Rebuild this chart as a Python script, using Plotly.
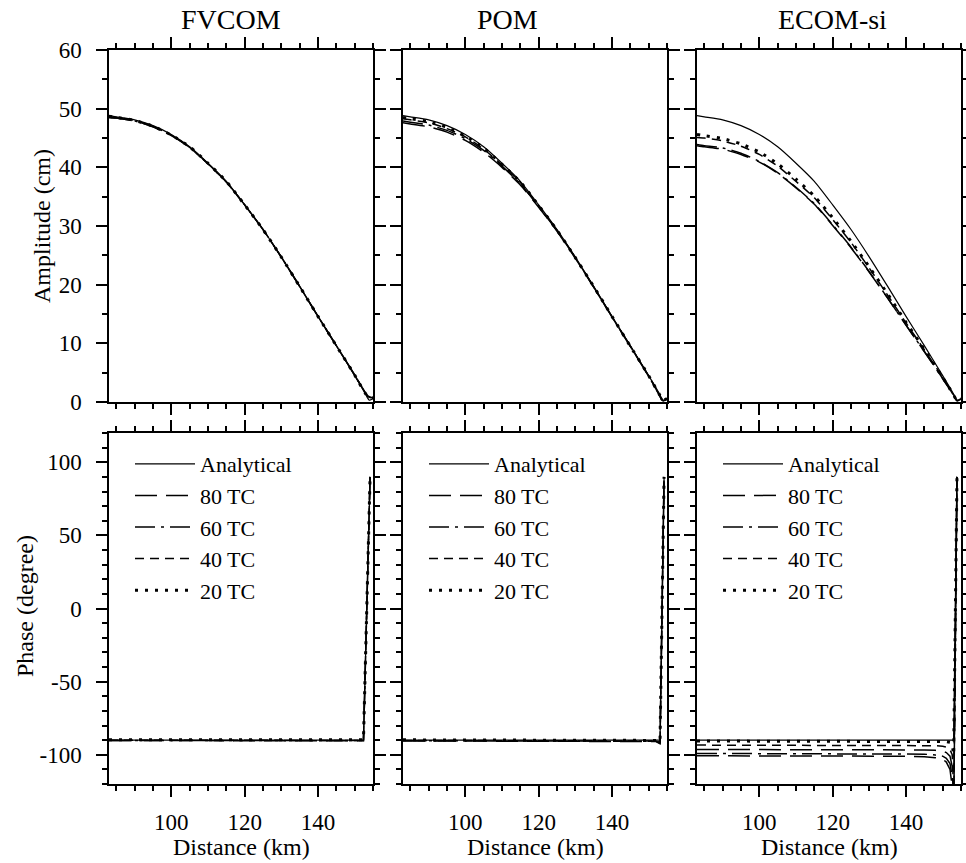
import plotly.graph_objects as go
from plotly.subplots import make_subplots

# ---------------- data ----------------
panels = ["FVCOM", "POM", "ECOM-si"]
series = ["Analytical", "80 TC", "60 TC", "40 TC", "20 TC"]

x_amp = [83, 85, 90, 95, 100, 105, 110, 115, 120, 125, 130, 135, 140, 145, 150, 152, 153, 153.5, 154, 155]

amp_analytical = [48.8, 48.6, 48.1, 47.1, 45.6, 43.5, 40.7, 37.6, 33.6, 29.4, 24.7, 19.7, 14.6, 9.6, 4.5, 2.4, 1.3, 0.7, 0.3, 0.6]

fv_amp_80 = [48.5, 48.4, 47.9, 46.9, 45.4, 43.4, 40.6, 37.5, 33.6, 29.4, 24.7, 19.7, 14.6, 9.6, 4.6, 2.5, 1.5, 1.1, 0.9, 0.7]
fv_amp_60 = [48.5, 48.4, 47.9, 46.9, 45.5, 43.4, 40.6, 37.5, 33.6, 29.4, 24.7, 19.7, 14.6, 9.6, 4.6, 2.5, 1.5, 1.1, 0.9, 0.7]
fv_amp_40 = [48.6, 48.5, 48.0, 47.0, 45.5, 43.4, 40.6, 37.5, 33.6, 29.4, 24.7, 19.7, 14.6, 9.6, 4.6, 2.5, 1.4, 1.0, 0.8, 0.7]
fv_amp_20 = [48.7, 48.5, 48.0, 47.0, 45.5, 43.5, 40.7, 37.6, 33.6, 29.4, 24.7, 19.7, 14.6, 9.6, 4.6, 2.4, 1.4, 1.0, 0.8, 0.7]

pom_amp_80 = [47.6, 47.4, 46.9, 46.0, 44.6, 42.6, 40.0, 37.0, 33.2, 29.1, 24.5, 19.6, 14.5, 9.5, 4.4, 2.2, 1.1, 0.4, 0.2, 0.5]
pom_amp_60 = [47.9, 47.7, 47.2, 46.3, 44.9, 42.9, 40.2, 37.2, 33.3, 29.2, 24.6, 19.6, 14.5, 9.5, 4.4, 2.2, 1.1, 0.4, 0.2, 0.5]
pom_amp_40 = [48.3, 48.1, 47.6, 46.6, 45.2, 43.1, 40.4, 37.4, 33.4, 29.3, 24.6, 19.6, 14.5, 9.5, 4.4, 2.3, 1.2, 0.5, 0.2, 0.5]
pom_amp_20 = [48.5, 48.3, 47.8, 46.8, 45.3, 43.3, 40.5, 37.5, 33.5, 29.3, 24.6, 19.7, 14.6, 9.5, 4.5, 2.3, 1.2, 0.6, 0.3, 0.6]

ec_amp_80 = [43.7, 43.5, 43.1, 42.2, 40.9, 39.0, 36.5, 33.7, 30.1, 26.3, 22.1, 17.7, 13.1, 8.6, 4.0, 2.1, 1.1, 0.5, 0.2, 0.5]
ec_amp_60 = [43.9, 43.7, 43.3, 42.4, 41.0, 39.1, 36.6, 33.8, 30.2, 26.4, 22.2, 17.7, 13.1, 8.6, 4.0, 2.1, 1.1, 0.5, 0.2, 0.5]
ec_amp_40 = [45.1, 45.0, 44.5, 43.6, 42.2, 40.2, 37.6, 34.8, 31.1, 27.2, 22.8, 18.2, 13.5, 8.9, 4.2, 2.2, 1.2, 0.6, 0.2, 0.5]
ec_amp_20 = [45.6, 45.4, 44.9, 44.0, 42.6, 40.6, 38.0, 35.1, 31.4, 27.4, 23.0, 18.4, 13.6, 9.0, 4.2, 2.2, 1.2, 0.6, 0.2, 0.6]

x_ph_fv = [83, 100, 120, 140, 150, 152.4, 154.2]
fv_ph_ana = [-90, -90, -90, -90, -90, -90, 90]
fv_ph_80 = [-90.3, -90.3, -90.3, -90.3, -90.3, -90.4, 90]
fv_ph_60 = [-90.2, -90.2, -90.2, -90.2, -90.2, -90.3, 90]
fv_ph_40 = [-90.1, -90.1, -90.1, -90.1, -90.1, -90.2, 90]
fv_ph_20 = [-89.7, -89.7, -89.7, -89.7, -89.7, -89.8, 90]

x_ph_pom = [83, 100, 120, 140, 150, 152, 153.1, 154.2]
pom_ph_ana = [-90, -90, -90, -90, -90, -90, -90, 90]
pom_ph_80 = [-90.5, -90.5, -90.5, -90.5, -90.6, -91.0, -92.5, 90]
pom_ph_60 = [-90.4, -90.4, -90.4, -90.4, -90.5, -90.8, -92.0, 90]
pom_ph_40 = [-90.2, -90.2, -90.2, -90.2, -90.3, -90.6, -91.5, 90]
pom_ph_20 = [-89.8, -89.8, -89.8, -89.8, -89.9, -90.2, -91.0, 90]

x_ph_ec = [83, 100, 120, 140, 145, 148, 150, 151, 152, 152.6, 153.0, 153.9]
ec_ph_ana = [-90, -90, -90, -90, -90, -90, -90, -90, -90, -90, -90, 90]
ec_ph_20 = [-90.6, -90.6, -90.6, -90.6, -90.6, -90.7, -90.8, -91.0, -91.5, -93.0, -100, 90]
ec_ph_40 = [-93.4, -93.4, -93.4, -93.5, -93.6, -93.8, -94.2, -94.8, -96.5, -100, -125, 90]
ec_ph_80 = [-96.4, -96.4, -96.4, -96.5, -96.7, -97.0, -97.6, -98.5, -101, -108, -135, 90]
ec_ph_60 = [-99.1, -99.1, -99.2, -99.3, -99.6, -100.2, -101, -102.5, -106, -115, -140, 90]
ec_ph_extra = [-100.7, -100.7, -100.8, -101.0, -101.3, -102, -103, -105, -110, -122, -145, 90]

amp_tick_vals = [0, 10, 20, 30, 40, 50, 60]
amp_tick_text = ["0", "10", "20", "30", "40", "50", "60"]
phase_tick_vals = [-100, -50, 0, 50, 100]
phase_tick_text = ["-100", "-50", "0", "50", "100"]
dist_tick_vals = [100, 120, 140]
dist_tick_text = ["100", "120", "140"]

# ---------------- styles ----------------
FONT = "Liberation Serif, Times New Roman, Times, serif"
styles = {
    "Analytical": dict(color="black", width=1.2, dash="solid"),
    "80 TC": dict(color="black", width=1.5, dash="22px,9px"),
    "60 TC": dict(color="black", width=1.5, dash="20px,6px,3px,6px"),
    "40 TC": dict(color="black", width=1.5, dash="9px,6px"),
    "20 TC": dict(color="black", width=3, dash="3px,7px"),
}

amp_data = [
    [amp_analytical, fv_amp_80, fv_amp_60, fv_amp_40, fv_amp_20],
    [amp_analytical, pom_amp_80, pom_amp_60, pom_amp_40, pom_amp_20],
    [amp_analytical, ec_amp_80, ec_amp_60, ec_amp_40, ec_amp_20],
]
ph_x = [x_ph_fv, x_ph_pom, x_ph_ec]
ph_data = [
    [fv_ph_ana, fv_ph_80, fv_ph_60, fv_ph_40, fv_ph_20],
    [pom_ph_ana, pom_ph_80, pom_ph_60, pom_ph_40, pom_ph_20],
    [ec_ph_ana, ec_ph_80, ec_ph_60, ec_ph_40, ec_ph_20],
]
legend_names = ["legend", "legend2", "legend3"]

fig = make_subplots(rows=2, cols=3)

for c in range(3):
    for s, name in enumerate(series):
        fig.add_trace(go.Scatter(x=x_amp, y=amp_data[c][s], mode="lines",
                                 line=dict(styles[name], shape="spline", smoothing=0.6),
                                 showlegend=False, name=name, hoverinfo="skip"),
                      row=1, col=c + 1)
    for s, name in enumerate(series):
        fig.add_trace(go.Scatter(x=ph_x[c], y=ph_data[c][s], mode="lines",
                                 line=styles[name], name=name, showlegend=True,
                                 legend=legend_names[c], hoverinfo="skip"),
                      row=2, col=c + 1)
    if c == 2:
        fig.add_trace(go.Scatter(x=x_ph_ec, y=ec_ph_extra, mode="lines",
                                 line=styles["80 TC"], showlegend=False, hoverinfo="skip"),
                      row=2, col=3)

W, H = 966, 863
xdom = [(109, 373), (403, 667), (697, 961)]
title_x = [231, 507, 832]
ydom_top = (50, 402)
ydom_bot = (433, 784)

axis_common = dict(showline=True, linewidth=1.5, linecolor="black", mirror="allticks",
                   ticks="outside", ticklen=11, tickwidth=1.5, tickcolor="black",
                   showgrid=False, zeroline=False, automargin=False,
                   tickfont=dict(family=FONT, size=23, color="black"))

for r in (1, 2):
    for c in (1, 2, 3):
        idx = (r - 1) * 3 + c
        xa = "xaxis" if idx == 1 else f"xaxis{idx}"
        ya = "yaxis" if idx == 1 else f"yaxis{idx}"
        x0, x1 = xdom[c - 1]
        yd = ydom_top if r == 1 else ydom_bot
        fig.layout[xa].update(axis_common)
        fig.layout[xa].update(domain=[x0 / W, x1 / W], range=[83, 155],
                              tickmode="array", tickvals=dist_tick_vals, ticktext=dist_tick_text,
                              minor=dict(dtick=5, tick0=0, ticks="outside", ticklen=5,
                                         tickwidth=1.5, tickcolor="black"),
                              showticklabels=(r == 2), ticklabelstandoff=6)
        fig.layout[ya].update(axis_common)
        fig.layout[ya].update(domain=[1 - yd[1] / H, 1 - yd[0] / H],
                              showticklabels=(c == 1), ticklabelstandoff=10)
        if r == 1:
            fig.layout[ya].update(range=[0, 60], tickmode="array", tickvals=amp_tick_vals,
                                  ticktext=amp_tick_text,
                                  minor=dict(dtick=5, tick0=0, ticks="outside", ticklen=5,
                                             tickwidth=1.5, tickcolor="black"))
        else:
            fig.layout[ya].update(range=[-120, 120], tickmode="array", tickvals=phase_tick_vals,
                                  ticktext=phase_tick_text,
                                  minor=dict(dtick=10, tick0=0, ticks="outside", ticklen=5,
                                             tickwidth=1.5, tickcolor="black"))

ann = []
for c, t in enumerate(panels):
    x0, x1 = xdom[c]
    ann.append(dict(text=t, x=title_x[c] / W, y=1 - 19 / H, xref="paper", yref="paper",
                    showarrow=False, font=dict(family=FONT, size=28, color="black"),
                    xanchor="center", yanchor="middle"))
    ann.append(dict(text="Distance (km)", x=(x0 + x1) / 2 / W, y=1 - 847 / H, xref="paper",
                    yref="paper", showarrow=False, font=dict(family=FONT, size=24, color="black"),
                    xanchor="center", yanchor="middle"))
ann.append(dict(text="Amplitude (cm)", x=42 / W, y=1 - 226 / H, xref="paper", yref="paper",
                showarrow=False, textangle=-90, font=dict(family=FONT, size=24, color="black"),
                xanchor="center", yanchor="middle"))
ann.append(dict(text="Phase (degree)", x=25 / W, y=1 - 606 / H, xref="paper", yref="paper",
                showarrow=False, textangle=-90, font=dict(family=FONT, size=24, color="black"),
                xanchor="center", yanchor="middle"))

legend_common = dict(font=dict(family=FONT, size=22, color="black"), bgcolor="rgba(0,0,0,0)",
                     borderwidth=0, xanchor="left", yanchor="top", itemwidth=60,
                     itemclick=False, itemdoubleclick=False)
lay = {}
for c, ln in enumerate(legend_names):
    lay[ln] = dict(legend_common, x=(xdom[c][0] + 21) / W, y=1 - 443 / H)

fig.update_layout(width=W, height=H, margin=dict(l=0, r=0, t=0, b=0),
                  paper_bgcolor="white", plot_bgcolor="white",
                  annotations=ann, **lay)

fig.write_html("out.html")
